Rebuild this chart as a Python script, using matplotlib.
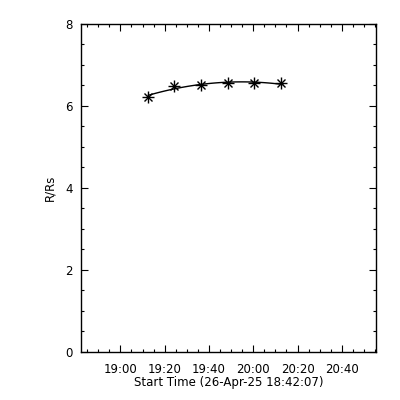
import numpy as np
import matplotlib
matplotlib.use('Agg')
import matplotlib.pyplot as plt
import matplotlib.dates as mdates
from datetime import datetime

START = '2025-04-26 18:42:07'
times = ['19:12:35', '19:24:20', '19:36:30', '19:48:45', '20:00:30', '20:12:20']
heights = [6.22, 6.49, 6.51, 6.56, 6.56, 6.55]

t0 = datetime.strptime(START, '%Y-%m-%d %H:%M:%S')
tt = [datetime.strptime('2025-04-26 ' + s, '%Y-%m-%d %H:%M:%S') for s in times]
x = mdates.date2num(tt)
xstart = mdates.date2num(t0)
xend = xstart + 8000 / 86400.0

fig = plt.figure(figsize=(4, 4), dpi=100)
ax = fig.add_axes([0.202, 0.121, 0.738, 0.819])

# quadratic fit through the points
sec = (x - xstart) * 86400
coef = np.polyfit(sec, heights, 2)
sfit = np.linspace(sec[0], sec[-1] + 60, 100)
ax.plot(xstart + sfit / 86400, np.polyval(coef, sfit), color='black', lw=1)

ax.plot(x, heights, '+', color='black', ms=8, mew=1)
ax.plot(x, heights, 'x', color='black', ms=6, mew=1)

ax.set_xlim(xstart, xend)
ax.set_ylim(0, 8)
ax.xaxis.set_major_locator(mdates.MinuteLocator(byminute=[0, 20, 40]))
ax.xaxis.set_minor_locator(mdates.MinuteLocator(byminute=range(0, 60, 5)))
ax.xaxis.set_major_formatter(mdates.DateFormatter('%H:%M'))
ax.set_yticks([0, 2, 4, 6, 8])
ax.set_yticks(np.arange(0, 8.01, 0.5), minor=True)

ax.tick_params(which='both', direction='in', top=True, right=True, labelsize=8.5, width=0.8)
ax.tick_params(which='major', length=5)
ax.tick_params(which='minor', length=2.5)
ax.tick_params(axis='y', pad=6)
ax.tick_params(axis='x', pad=8)
for s in ax.spines.values():
    s.set_linewidth(1)

ax.set_xlabel('Start Time (26-Apr-25 18:42:07)', fontsize=8.5, labelpad=0)
ax.set_ylabel('R/Rs', fontsize=8.5, labelpad=6)

fig.savefig('out.png', dpi=100)
